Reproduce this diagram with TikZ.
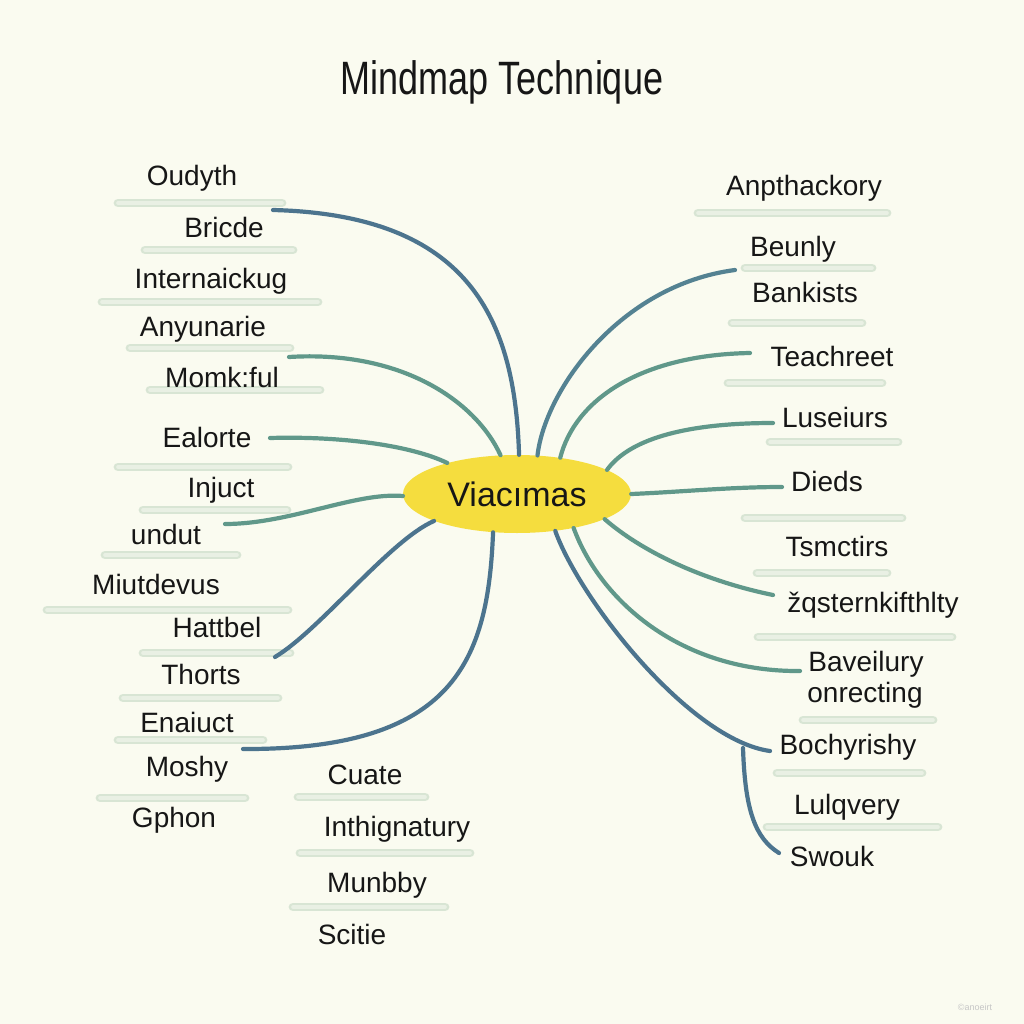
\documentclass[tikz,border=0pt]{standalone}
\usepackage{fontspec}
\setmainfont{Liberation Sans}
\usetikzlibrary{shapes.geometric}
\definecolor{bg}{RGB}{250,251,240}
\definecolor{dblue}{RGB}{76,116,142}
\definecolor{tealc}{RGB}{96,152,138}
\definecolor{mblue}{RGB}{84,130,146}
\definecolor{hlA}{RGB}{216,229,212}
\definecolor{hlB}{RGB}{233,240,228}
\definecolor{sun}{RGB}{245,221,62}
\definecolor{ink}{RGB}{22,22,22}
\begin{document}
\begin{tikzpicture}[x=1pt,y=-1pt,
  lbl/.style={font=\fontsize{28}{31}\selectfont, text=ink, inner sep=0pt, anchor=base},
  conn/.style={line width=4.2pt, line cap=round, line join=round},
  darkline/.style={conn, draw=dblue},
  tealline/.style={conn, draw=tealc},
  midline/.style={conn, draw=mblue},
  hl/.style={line width=2.6pt, draw=hlA, double=hlB, double distance=3.6pt, line cap=round}]
\fill[bg] (0,0) rectangle (1024,1024);
\useasboundingbox (0,0) rectangle (1024,1024);

% title
\node[anchor=base, inner sep=0pt, text=ink] (title) at (502,95)
  {\scalebox{1}[1.3]{\fontsize{36}{40}\selectfont Mindmap Technique}};

% highlight strokes under labels
\foreach \a/\b/\y in {118/282/203,145/293/250,102/318/302,130/290/348,150/320/390,
  118/288/467,143/287/510,105/237/555,47/288/610,143/290/653,123/278/698,118/263/740,
  100/245/798,298/425/797,300/470/853,293/445/907,
  698/887/213,745/872/268,732/862/323,728/882/383,770/898/442,745/902/518,757/887/573,
  758/952/637,803/933/720,777/922/773,767/938/827}
  \draw[hl] (\a,\y) -- (\b,\y);

% central node
\node[ellipse, fill=sun, minimum width=228pt, minimum height=78pt, inner sep=0pt,
  font=\fontsize{34}{38}\selectfont, text=ink] (c) at (517,494) {Viacımas};

% labels left
\node[lbl] (oudyth) at (192,186) {Oudyth};
\node[lbl] (bricde) at (224,237) {Bricde};
\node[lbl] (intern) at (211,288) {Internaickug};
\node[lbl] (anyun) at (203,336) {Anyunarie};
\node[lbl] (momk) at (222,387) {Momk:ful};
\node[lbl] (ealorte) at (207,447) {Ealorte};
\node[lbl] (injuct) at (221,497) {Injuct};
\node[lbl] (undut) at (166,544) {undut};
\node[lbl] (miut) at (156,594) {Miutdevus};
\node[lbl] (hattbel) at (217,637) {Hattbel};
\node[lbl] (thorts) at (201,684) {Thorts};
\node[lbl] (enaiuct) at (187,732) {Enaiuct};
\node[lbl] (moshy) at (187,776) {Moshy};
\node[lbl] (gphon) at (174,827) {Gphon};
% labels bottom
\node[lbl] (cuate) at (365,784) {Cuate};
\node[lbl] (inthig) at (397,836) {Inthignatury};
\node[lbl] (munbby) at (377,892) {Munbby};
\node[lbl] (scitie) at (352,944) {Scitie};
% labels right
\node[lbl] (anpth) at (804,196) {Anpthackory};
\node[lbl] (beunly) at (793,256) {Beunly};
\node[lbl] (bankists) at (805,302) {Bankists};
\node[lbl] (teach) at (832,366) {Teachreet};
\node[lbl] (luse) at (835,427) {Luseiurs};
\node[lbl] (dieds) at (827,491) {Dieds};
\node[lbl] (tsmc) at (837,556) {Tsmctirs};
\node[lbl] (zq) at (873,612) {žqsternkifthlty};
\node[lbl] (bav) at (866,671) {Baveilury};
\node[lbl] (onrec) at (865,702) {onrecting};
\node[lbl] (boch) at (848,754) {Bochyrishy};
\node[lbl] (lulq) at (847,814) {Lulqvery};
\node[lbl] (swouk) at (832,866) {Swouk};

% connector free ends
\coordinate (eBricde) at (273,210);
\coordinate (eMomk) at (289,357);
\coordinate (eEalorte) at (270,438);
\coordinate (eUndut) at (225,524);
\coordinate (eHattbel) at (275,657);
\coordinate (eEnaiuct) at (243,749);
\coordinate (eBeunly) at (735,270);
\coordinate (eTeach) at (750,353);
\coordinate (eLuse) at (773,423);
\coordinate (eDieds) at (782,487);
\coordinate (eZq) at (773,595);
\coordinate (eBav) at (800,671);
\coordinate (eBoch) at (770,751);
\coordinate (j) at (743,748);
\coordinate (eSwouk) at (779,853);

% connectors left
\draw[darkline] (c.87) .. controls (515,320) and (470,215) .. (eBricde);
\draw[tealline] (c.113) .. controls (475,400) and (400,350) .. (eMomk);
\draw[tealline] (c.156) .. controls (410,445) and (340,436) .. (eEalorte);
\draw[tealline] (c.181) .. controls (355,492) and (290,524) .. (eUndut);
\draw[darkline] (c.198) .. controls (390,540) and (320,630) .. (eHattbel);
\draw[darkline] (c.238) .. controls (488,660) and (455,750) .. (eEnaiuct);
% connectors right
\draw[midline] (c.62) .. controls (545,390) and (620,285) .. (eBeunly);
\draw[tealline] (c.40) .. controls (575,400) and (640,355) .. (eTeach);
\draw[tealline] (c.15) .. controls (625,445) and (670,423) .. (eLuse);
\draw[tealline] (c.0) .. controls (680,492) and (730,487) .. (eDieds);
\draw[tealline] (c.-16) .. controls (640,550) and (700,580) .. (eZq);
\draw[tealline] (c.-31) .. controls (600,600) and (680,672) .. (eBav);
\draw[darkline] (c.-44) .. controls (580,600) and (690,740) .. (eBoch);
\draw[darkline] (j) .. controls (745,810) and (755,838) .. (eSwouk);

% watermark
\node[text=gray!45, font=\fontsize{9}{10}\selectfont, inner sep=0pt] (wm) at (975,1007) {©anoeirt};
\end{tikzpicture}
\end{document}
